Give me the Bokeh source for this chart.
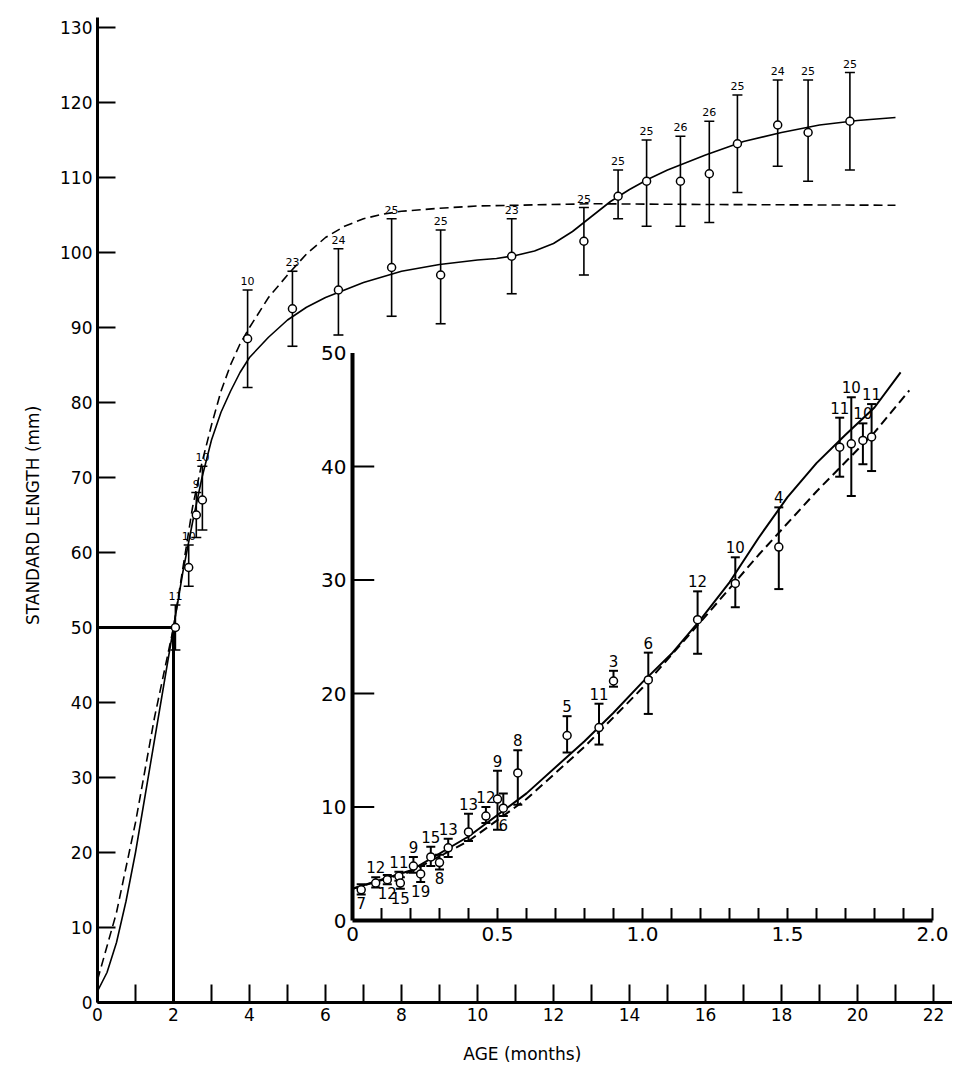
from bokeh.plotting import figure
from bokeh.models import Range1d, FixedTicker, Whisker, TeeHead, ColumnDataSource
from bokeh.core.properties import value
from bokeh.embed import file_html
from bokeh.resources import INLINE

FONT = "DejaVu Sans"

# ---- main data (age months, SL mm) ----
main_age = [2.05, 2.4, 2.6, 2.76, 3.95, 5.13, 6.34, 7.74, 9.03, 10.9, 12.8, 13.7, 14.45, 15.34, 16.1, 16.84, 17.9, 18.7, 19.8]
main_mean = [50, 58, 65, 67, 88.5, 92.5, 95, 98, 97, 99.5, 101.5, 107.5, 109.5, 109.5, 110.5, 114.5, 117, 116, 117.5]
main_lo = [47, 55.5, 62, 63, 82, 87.5, 89, 91.5, 90.5, 94.5, 97, 104.5, 103.5, 103.5, 104, 108, 111.5, 109.5, 111]
main_hi = [53, 61, 68, 71.5, 95, 97.5, 100.5, 104.5, 103, 104.5, 106, 111, 115, 115.5, 117.5, 121, 123, 123, 124]
main_n = ["11", "10", "9", "10", "10", "23", "24", "25", "25", "23", "25", "25", "25", "26", "26", "25", "24", "25", "25"]

solid_x = [0, 0.25, 0.5, 0.75, 1, 1.25, 1.5, 1.75, 2, 2.25, 2.5, 2.75, 3, 3.25, 3.5, 3.75, 4, 4.5, 5, 5.5, 6, 7, 8, 9, 10,
           10.5, 11, 11.5, 12, 12.5, 13, 13.5, 14, 14.5, 15, 16, 17, 18, 19, 20, 21]
solid_y = [1.5, 4, 8, 13.5, 20, 27.5, 35, 42.5, 50, 57.5, 64, 70, 75, 78.7, 81.5, 84, 86, 88.7, 91, 92.7, 94, 96, 97.5, 98.4, 99,
           99.2, 99.6, 100.2, 101.2, 102.8, 104.8, 106.8, 108.4, 109.8, 111, 113, 114.8, 116, 117, 117.6, 118]
dash_x = [0, 0.25, 0.5, 0.75, 1, 1.25, 1.5, 1.75, 2, 2.25, 2.5, 2.75, 3, 3.25, 3.5, 3.75, 4, 4.5, 5, 5.5, 6, 6.5, 7, 7.5, 8, 9, 10, 13, 16, 21]
dash_y = [3, 7.5, 12, 18, 24, 31, 38, 44, 50, 58, 66, 72, 77, 81.5, 85, 87.8, 90, 94, 97, 99.8, 102, 103.5, 104.5, 105.1, 105.5, 105.9, 106.2, 106.5, 106.4, 106.3]

# ---- inset data (age months, SL mm) ----
in_age = [0.03, 0.08, 0.12, 0.16, 0.165, 0.21, 0.235, 0.27, 0.30, 0.33, 0.40, 0.46, 0.50, 0.52, 0.57, 0.74,
          0.85, 0.90, 1.02, 1.19, 1.32, 1.47, 1.68, 1.72, 1.76, 1.79]
in_mean = [2.7, 3.3, 3.6, 3.9, 3.3, 4.8, 4.1, 5.6, 5.1, 6.4, 7.8, 9.2, 10.7, 9.9, 13.0, 16.3,
           17.0, 21.1, 21.2, 26.5, 29.7, 32.9, 41.7, 42.0, 42.3, 42.6]
in_lo = [2.3, 2.9, 3.2, 3.5, 2.8, 4.2, 3.4, 4.8, 4.5, 5.6, 7.0, 8.6, 8.0, 9.2, 10.2, 14.8,
         15.5, 20.6, 18.2, 23.5, 27.6, 29.2, 39.1, 37.4, 40.2, 39.6]
in_hi = [3.2, 3.8, 4.0, 4.3, 3.8, 5.6, 4.8, 6.5, 5.8, 7.2, 9.4, 10.0, 13.2, 11.2, 15.0, 18.0,
         19.1, 22.0, 23.6, 29.0, 32.0, 36.4, 44.3, 46.1, 43.8, 45.5]
in_n = ["7", "12", "12", "11", "15", "9", "19", "15", "8", "13", "13", "12", "9", "6", "8", "5",
        "11", "3", "6", "12", "10", "4", "11", "10", "10", "11"]
in_pos = ["b", "a", "b", "a", "b", "a", "b", "a", "b", "a", "a", "a", "a", "b", "a", "a",
          "a", "a", "a", "a", "a", "a", "a", "a", "a", "a"]

in_solid_x = [0, 0.2, 0.4, 0.6, 0.8, 0.9, 1.0, 1.1, 1.2, 1.3, 1.4, 1.5, 1.6, 1.7, 1.8, 1.89]
in_solid_y = [2.8, 4.4, 7.4, 11.2, 15.8, 18.3, 21.0, 23.5, 26.5, 29.8, 33.7, 37.3, 40.3, 42.8, 45.2, 48.3]
in_dash_x = [0, 0.2, 0.4, 0.6, 0.8, 1.0, 1.2, 1.4, 1.6, 1.8, 1.92]
in_dash_y = [2.8, 4.3, 7.0, 10.7, 15.3, 20.5, 26.3, 32.2, 37.8, 43.0, 46.7]

x_labels = [str(v) for v in range(0, 23, 2)]
y_labels = [str(v) for v in range(0, 131, 10)]
in_x_ticklabels = ["0", "0.5", "1.0", "1.5", "2.0"]
in_x_tickvals = [0, 0.5, 1.0, 1.5, 2.0]
in_y_tickvals = [0, 10, 20, 30, 40, 50]

# ---- layout in pixels (page coordinates) ----
FL, FR, FT, FB = 97, 952, 17, 1002
W, H = FR, 1072
PX_X = 38.0
PX_Y = 7.5
IX0, IY0, IPX, IPY = 352, 920, 290.0, 11.35

p = figure(width=W, height=H, output_backend="svg", toolbar_location=None,
           x_range=Range1d(0, (FR - FL) / PX_X), y_range=Range1d(0, (FB - FT) / PX_Y),
           min_border_left=FL, min_border_right=0, min_border_top=FT,
           min_border_bottom=H - FB)
p.extra_x_ranges = {"ix": Range1d(-(IX0 - FL) / IPX, (FR - IX0) / IPX)}
p.extra_y_ranges = {"iy": Range1d(-(FB - IY0) / IPY, (IY0 - FT) / IPY)}
p.outline_line_color = None
p.grid.visible = False
p.background_fill_color = "white"

for ax in (p.xaxis[0], p.yaxis[0]):
    ax.axis_line_width = 3
    ax.axis_line_color = "black"
    ax.major_tick_line_width = 2
    ax.minor_tick_line_width = 2
    ax.major_tick_line_color = "black"
    ax.minor_tick_line_color = "black"
    ax.major_tick_out = 0
    ax.major_tick_in = 18
    ax.minor_tick_out = 0
    ax.minor_tick_in = 18
    ax.major_label_text_font = FONT
    ax.major_label_text_font_size = "17px"
    ax.major_label_text_color = "black"
    ax.axis_label_text_font = FONT
    ax.axis_label_text_font_size = "17px"
    ax.axis_label_text_font_style = "normal"
    ax.axis_label_text_color = "black"
p.xaxis.ticker = FixedTicker(ticks=list(range(0, 23, 2)), minor_ticks=list(range(1, 23, 2)))
p.xaxis.major_label_overrides = {int(s): s for s in x_labels}
p.yaxis.ticker = FixedTicker(ticks=list(range(0, 131, 10)), minor_ticks=[])
p.yaxis.major_label_overrides = {int(s): s for s in y_labels}
p.yaxis.major_label_orientation = "horizontal"
p.xaxis.axis_label = "AGE  (months)"
p.yaxis.axis_label = "STANDARD  LENGTH  (mm)"
p.xaxis.axis_label_standoff = 20
p.yaxis.axis_label_standoff = 14

# connection lines
p.line([0, 2], [50, 50], line_width=3, color="black")
p.line([2, 2], [0, 50], line_width=3, color="black")

# main curves
p.line(solid_x, solid_y, line_width=1.6, color="black")
p.line(dash_x, dash_y, line_width=1.6, color="black", line_dash="9 5")

ms = ColumnDataSource(dict(x=main_age, y=main_mean, lo=main_lo, hi=main_hi, n=main_n))
p.add_layout(Whisker(source=ms, base="x", lower="lo", upper="hi", line_width=1.6,
                     upper_head=TeeHead(size=10, line_width=1.6), lower_head=TeeHead(size=10, line_width=1.6)))
p.scatter("x", "y", source=ms, size=8, fill_color="white", line_color="black", line_width=1.5)
p.text("x", "hi", text="n", source=ms, text_font=value(FONT), text_font_size="11px",
       text_align="center", text_baseline="bottom", y_offset=-5)

# ---- inset ----
kw = dict(x_range_name="ix", y_range_name="iy")
p.line([0, 0], [0, 50], line_width=4, color="black", **kw)
p.line([0, 2.0], [0, 0], line_width=4, color="black", **kw)
tx = [i / 10 for i in range(1, 21)]
p.segment(x0=tx, y0=[0] * len(tx), x1=tx, y1=[1.1] * len(tx), line_width=2, color="black", **kw)
ty = [10, 20, 30, 40]
p.segment(x0=[0] * 4, y0=ty, x1=[0.075] * 4, y1=ty, line_width=2, color="black", **kw)
p.text(in_x_tickvals, [0] * 5, text=in_x_ticklabels, text_font=value(FONT), text_font_size="20px",
       text_align="center", text_baseline="top", y_offset=6, **kw)
p.text([0] * 6, in_y_tickvals, text=[str(v) for v in in_y_tickvals], text_font=value(FONT),
       text_font_size="20px", text_align="right", text_baseline="middle", x_offset=-6, **kw)

p.line(in_solid_x, in_solid_y, line_width=2, color="black", **kw)
p.line(in_dash_x, in_dash_y, line_width=2, color="black", line_dash="9 5", **kw)

isrc = ColumnDataSource(dict(x=in_age, y=in_mean, lo=in_lo, hi=in_hi))
p.add_layout(Whisker(source=isrc, base="x", lower="lo", upper="hi", line_width=2,
                     x_range_name="ix", y_range_name="iy",
                     upper_head=TeeHead(size=9, line_width=2), lower_head=TeeHead(size=9, line_width=2)))
p.scatter("x", "y", source=isrc, size=8, fill_color="white", line_color="black", line_width=1.5, **kw)

ax_ = [a for a, s in zip(in_age, in_pos) if s == "a"]
ay_ = [h for h, s in zip(in_hi, in_pos) if s == "a"]
an_ = [n for n, s in zip(in_n, in_pos) if s == "a"]
bx_ = [a for a, s in zip(in_age, in_pos) if s == "b"]
by_ = [l for l, s in zip(in_lo, in_pos) if s == "b"]
bn_ = [n for n, s in zip(in_n, in_pos) if s == "b"]
p.text(ax_, ay_, text=an_, text_font=value(FONT), text_font_size="15px", text_align="center",
       text_baseline="bottom", y_offset=-4, **kw)
p.text(bx_, by_, text=bn_, text_font=value(FONT), text_font_size="15px", text_align="center",
       text_baseline="top", y_offset=3, **kw)

open("out.html", "w").write(file_html(p, INLINE))
